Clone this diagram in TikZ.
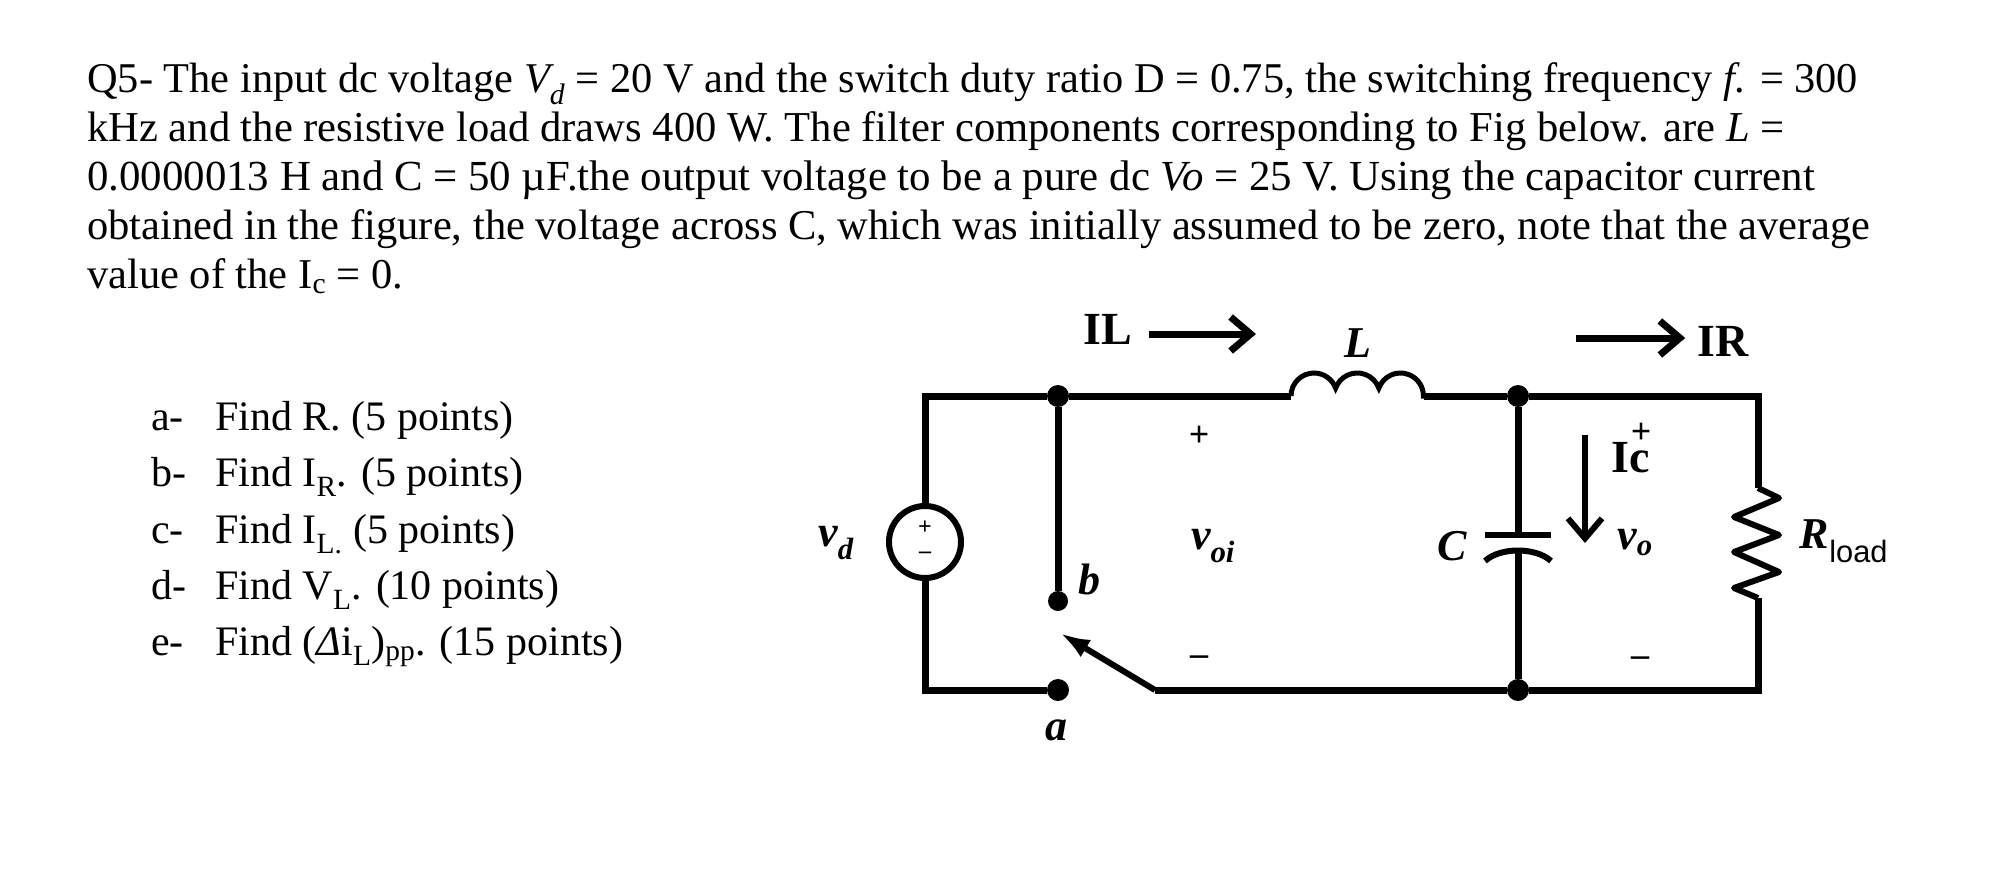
\documentclass[tikz,border=0pt]{standalone}
\usepackage{fontspec}
\usetikzlibrary{arrows.meta}
\setmainfont{Liberation Serif}
\newfontfamily\loadfont{Liberation Sans}
\begin{document}
\begin{tikzpicture}[x=1pt,y=-1pt,line join=miter]
      \tikzstyle{text line}=[anchor=base west,inner sep=0,font=\fontsize{42.5}{50}\selectfont]
      \tikzstyle{list line}=[anchor=base west,inner sep=0,font=\fontsize{42}{50}\selectfont]
      \tikzstyle{solid node}=[circle,fill=black,inner sep=0,minimum size=22pt]
      \tikzstyle{wire}=[draw,line width=7pt]
      \tikzstyle{part label}=[inner sep=0,font=\fontsize{44}{48}\selectfont\itshape\bfseries]
      \tikzstyle{bold label}=[inner sep=0,font=\fontsize{46}{50}\selectfont\bfseries]
      \tikzstyle{polarity}=[inner sep=0,font=\fontsize{36}{40}\selectfont\bfseries]
      \tikzstyle{current}=[draw,line width=7pt,-{Straight Barb[length=20pt,width=34pt]}]
      \useasboundingbox (0,0) rectangle (2000,868);

      % question text
      \node(line1)[text line,font=\fontsize{42.4}{50}\selectfont] at (87,92) {Q5- The input dc voltage \textit{V\textsubscript{d}} = 20 V and the switch duty ratio D = 0.75, the switching frequency \textit{f.} = 300};
      \node(line2)[text line,font=\fontsize{42.6}{50}\selectfont] at (87,141) {kHz and the resistive load draws 400 W. The filter components corresponding to Fig below. are \textit{L} =};
      \node(line3)[text line,font=\fontsize{42.85}{50}\selectfont] at (87,190) {0.0000013 H and C = 50 µF.the output voltage to be a pure dc \textit{Vo} = 25 V. Using the capacitor current};
      \node(line4)[text line] at (87,239) {obtained in the figure, the voltage across C, which was initially assumed to be zero, note that the average};
      \node(line5)[text line] at (87,288) {value of the I\textsubscript{c} = 0.};

      % list
      \foreach \y/\m/\t in {430/a/Find R. (5 points),
                            486/b/Find I\textsubscript{R}. (5 points),
                            543/c/Find I\textsubscript{L.} (5 points),
                            599/d/Find V\textsubscript{L}. (10 points),
                            655/e/Find (\textit{Δ}i\textsubscript{L})\textsubscript{pp}. (15 points)}{
          \node(item\m)[list line] at (151,\y) {\m-};
          \node(find\m)[list line] at (215,\y) {\t};
      }

      % circuit
      \coordinate(topleft) at (925,396);
      \coordinate(botleft) at (925,690);
      \coordinate(hinge) at (1155,690);
      \coordinate(tip) at (1060,633);
      \coordinate(lin) at (1291,396);
      \coordinate(lout) at (1424,396);
      \coordinate(topright) at (1758,396);
      \coordinate(botright) at (1758,690);
      \coordinate(rin) at (1758,488);
      \coordinate(rout) at (1758,598);
      \coordinate(plateup) at (1518,535);
      \coordinate(platedown) at (1518,550);
      \coordinate(arcleft) at (1485,561);
      \coordinate(arcright) at (1551,561);
      \node(vs)[circle,draw,line width=6pt,fill=white,minimum size=72pt,inner sep=0] at (925,542) {};
      \node(nb)[solid node] at (1058,396) {};
      \node(nc)[solid node,minimum size=20pt] at (1058,601) {};
      \node(na)[solid node] at (1058,690) {};
      \node(ntop)[solid node] at (1518,396) {};
      \node(nbot)[solid node] at (1518,690) {};

      \path[wire] (vs) -- (topleft) -- (nb) -- (lin);
      \path[wire] (vs) -- (botleft) -- (na);
      \path[wire] (nb) -- (nc);
      \path[wire,line width=5pt] (lin) arc[start angle=180,end angle=340,radius=23]
          arc[start angle=200,end angle=340,radius=23] arc[start angle=200,end angle=360,radius=23] -- (lout);
      \path[wire] (lout) -- (ntop) -- (topright) -- (rin);
      \path[wire,line width=6pt,line join=round] (rin) -- ++(21,10) -- ++(-45,19) -- ++(45,18) -- ++(-45,17) -- ++(45,20) -- ++(-45,16) -- (rout);
      \path[wire] (rout) -- (botright) -- (nbot) -- (hinge);
      \path[wire,line width=6pt,-{Latex[length=30pt,width=20pt]}] (hinge) -- (tip);
      \path[wire] (ntop) -- (plateup);
      \path[wire] (nbot) -- (platedown);
      \draw[line width=6pt] ([xshift=-33pt]plateup) -- ([xshift=33pt]plateup);
      \draw[line width=6pt] (arcleft) .. controls (1500,547) and (1536,547) .. (arcright);

      % labels
      \node(vsplus)[inner sep=0,font=\fontsize{24}{24}\selectfont\bfseries] at (925,528) {+};
      \node(vsminus)[inner sep=0,font=\fontsize{24}{24}\selectfont\bfseries] at (925,555) {–};
      \node(lbvd)[part label] at (836,543) {v\textsubscript{d}};
      \node(lbb)[part label] at (1089,579) {b};
      \node(lba)[part label] at (1056,730) {a};
      \node(lbL)[part label] at (1358,343) {L};
      \node(lbvoi)[part label] at (1213,546) {v\textsubscript{oi}};
      \node(lbC)[part label] at (1452,546) {C};
      \node(lbvo)[part label] at (1635,543) {v\textsubscript{o}};
      \node(lbR)[part label] at (1844,541) {R\textsubscript{\loadfont\upshape\mdseries load}};
      \node(plusi)[polarity] at (1199,436) {+};
      \node(minusi)[polarity] at (1199,661) {–};
      \node(pluso)[polarity] at (1641,433) {+};
      \node(minuso)[polarity] at (1640,662) {–};
      \node(lbIL)[bold label] at (1108,329) {IL};
      \node(lbIR)[bold label] at (1723,341) {IR};
      \node(lbIc)[bold label] at (1631,458) {Ic};
      \coordinate(ilend) at (1256,334);
      \coordinate(irstart) at (1576,338);
      \coordinate(icstart) at (1585,435);
      \coordinate(icend) at (1585,543);
      \path[current] (lbIL.east) ++(16,5) -- (ilend);
      \path[current,shorten >=12pt] (irstart) -- (lbIR.west |- irstart);
      \path[current,line width=6pt] (icstart) -- (icend);
\end{tikzpicture}
\end{document}
